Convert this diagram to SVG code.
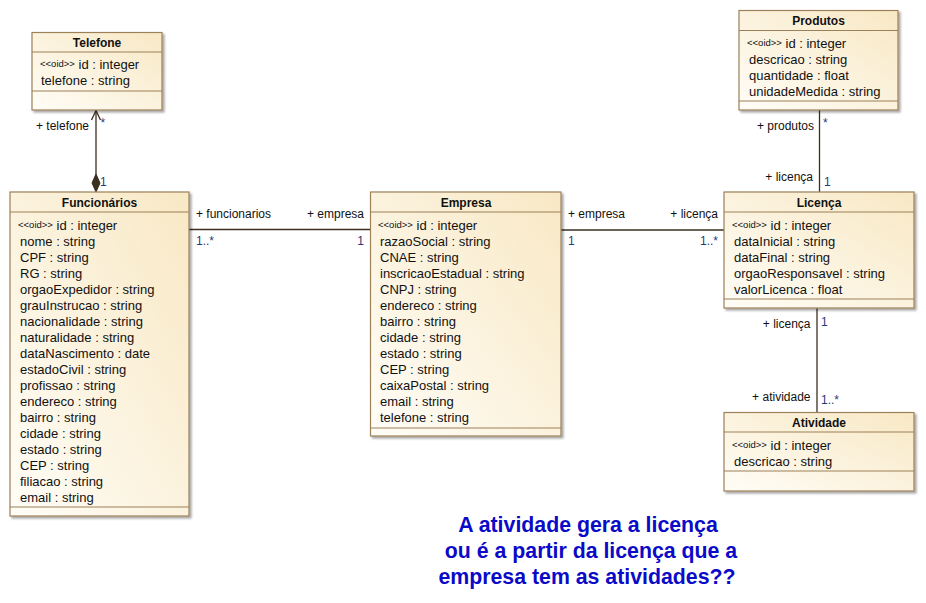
<svg xmlns="http://www.w3.org/2000/svg" width="926" height="603" viewBox="0 0 926 603">
<defs>
<linearGradient id="fill" x1="0" y1="1" x2="1" y2="0">
<stop offset="0" stop-color="#fffdf7"/>
<stop offset="1" stop-color="#f8e8c4"/>
</linearGradient>
<filter id="sh" x="-5%" y="-5%" width="115%" height="115%">
<feGaussianBlur in="SourceAlpha" stdDeviation="1.2"/>
<feOffset dx="2" dy="2" result="b"/>
<feComponentTransfer><feFuncA type="linear" slope="0.35"/></feComponentTransfer>
<feMerge><feMergeNode/><feMergeNode in="SourceGraphic"/></feMerge>
</filter>
</defs>
<style>
.box{fill:url(#fill);stroke:#9b8059;stroke-width:1.2;filter:url(#sh)}
.sep{stroke:#9b8059;stroke-width:1.2}
.t{font-family:"Liberation Sans",Arial,sans-serif;font-size:12px;font-weight:bold;fill:#111;text-anchor:middle}
.a{font-family:"Liberation Sans",Arial,sans-serif;font-size:13px;fill:#111}
.st{font-family:"Liberation Sans",Arial,sans-serif;font-size:9.5px;fill:#111}
.l{font-family:"Liberation Sans",Arial,sans-serif;font-size:12px;fill:#111}
.m{font-family:"Liberation Sans",Arial,sans-serif;font-size:12px;fill:#1f3a78}
.e{text-anchor:end}
.c{stroke:#3b2f20;stroke-width:1.3;fill:none}
.q{font-family:"Liberation Sans",Arial,sans-serif;font-size:21.3px;font-weight:bold;fill:#0a0ac8;text-anchor:middle}
</style>

<g id="connectors">
<line class="c" x1="96" y1="110" x2="96" y2="175"/>
<polyline class="c" points="91.5,120 96,110.5 100.5,120"/>
<polygon points="96,192 100,183 96,174 92,183" fill="#3b2f20" stroke="#3b2f20" stroke-width="1"/>
<line class="c" x1="189" y1="229.5" x2="370" y2="229.5"/>
<line class="c" x1="561" y1="230" x2="724" y2="230"/>
<line class="c" x1="819.5" y1="110" x2="819.5" y2="192"/>
<line class="c" x1="817" y1="308" x2="817" y2="412"/>
<text class="l" x="36" y="130">+ telefone</text>
<text class="m" x="100.5" y="127">*</text>
<text class="m" x="100" y="186">1</text>
<text class="l" x="196" y="218">+ funcionarios</text>
<text class="l e" x="364" y="218">+ empresa</text>
<text class="m" x="196" y="245">1..*</text>
<text class="m e" x="364" y="245">1</text>
<text class="l" x="568" y="218">+ empresa</text>
<text class="l e" x="718" y="218">+ licença</text>
<text class="m" x="568" y="245">1</text>
<text class="m e" x="718" y="245">1..*</text>
<text class="l e" x="814" y="130">+ produtos</text>
<text class="m" x="823" y="127">*</text>
<text class="l e" x="813" y="181">+ licença</text>
<text class="m" x="824" y="186">1</text>
<text class="l e" x="810.5" y="328">+ licença</text>
<text class="m" x="821" y="326">1</text>
<text class="l e" x="810.5" y="401">+ atividade</text>
<text class="m" x="821" y="404">1..*</text>
</g>

<g id="Telefone">
<rect class="box" x="32" y="32.5" width="130" height="77.5"/>
<line class="sep" x1="32" y1="52" x2="162" y2="52"/>
<line class="sep" x1="32" y1="91" x2="162" y2="91"/>
<text class="t" x="97" y="47">Telefone</text>
<text x="40" y="69"><tspan class="st" dy="-2">&lt;&lt;oid&gt;&gt;</tspan><tspan class="a" dy="2"> id : integer</tspan></text>
<text class="a" x="41" y="85">telefone : string</text>
</g>

<g id="Funcionarios">
<rect class="box" x="10" y="192" width="179" height="324"/>
<line class="sep" x1="10" y1="212" x2="189" y2="212"/>
<line class="sep" x1="10" y1="507" x2="189" y2="507"/>
<text class="t" x="99.5" y="207">Funcionários</text>
<text x="18" y="230"><tspan class="st" dy="-2">&lt;&lt;oid&gt;&gt;</tspan><tspan class="a" dy="2"> id : integer</tspan></text>
<text class="a" x="20" y="246">nome : string</text>
<text class="a" x="20" y="262">CPF : string</text>
<text class="a" x="20" y="278">RG : string</text>
<text class="a" x="20" y="294">orgaoExpedidor : string</text>
<text class="a" x="20" y="310">grauInstrucao : string</text>
<text class="a" x="20" y="326">nacionalidade : string</text>
<text class="a" x="20" y="342">naturalidade : string</text>
<text class="a" x="20" y="358">dataNascimento : date</text>
<text class="a" x="20" y="374">estadoCivil : string</text>
<text class="a" x="20" y="390">profissao : string</text>
<text class="a" x="20" y="406">endereco : string</text>
<text class="a" x="20" y="422">bairro : string</text>
<text class="a" x="20" y="438">cidade : string</text>
<text class="a" x="20" y="454">estado : string</text>
<text class="a" x="20" y="470">CEP : string</text>
<text class="a" x="20" y="486">filiacao : string</text>
<text class="a" x="20" y="502">email : string</text>
</g>

<g id="Empresa">
<rect class="box" x="370.5" y="192" width="190.5" height="244"/>
<line class="sep" x1="370.5" y1="212" x2="561" y2="212"/>
<line class="sep" x1="370.5" y1="428" x2="561" y2="428"/>
<text class="t" x="466" y="207">Empresa</text>
<text x="378" y="230"><tspan class="st" dy="-2">&lt;&lt;oid&gt;&gt;</tspan><tspan class="a" dy="2"> id : integer</tspan></text>
<text class="a" x="380" y="246">razaoSocial : string</text>
<text class="a" x="380" y="262">CNAE : string</text>
<text class="a" x="380" y="278">inscricaoEstadual : string</text>
<text class="a" x="380" y="294">CNPJ : string</text>
<text class="a" x="380" y="310">endereco : string</text>
<text class="a" x="380" y="326">bairro : string</text>
<text class="a" x="380" y="342">cidade : string</text>
<text class="a" x="380" y="358">estado : string</text>
<text class="a" x="380" y="374">CEP : string</text>
<text class="a" x="380" y="390">caixaPostal : string</text>
<text class="a" x="380" y="406">email : string</text>
<text class="a" x="380" y="422">telefone : string</text>
</g>

<g id="Produtos">
<rect class="box" x="739" y="10.5" width="159" height="99.5"/>
<line class="sep" x1="739" y1="30.5" x2="898" y2="30.5"/>
<line class="sep" x1="739" y1="101" x2="898" y2="101"/>
<text class="t" x="818.5" y="25">Produtos</text>
<text x="747" y="48"><tspan class="st" dy="-2">&lt;&lt;oid&gt;&gt;</tspan><tspan class="a" dy="2"> id : integer</tspan></text>
<text class="a" x="749" y="64">descricao : string</text>
<text class="a" x="749" y="80">quantidade : float</text>
<text class="a" x="749" y="96">unidadeMedida : string</text>
</g>

<g id="Licenca">
<rect class="box" x="724" y="192" width="190" height="116"/>
<line class="sep" x1="724" y1="212" x2="914" y2="212"/>
<line class="sep" x1="724" y1="299" x2="914" y2="299"/>
<text class="t" x="819" y="207">Licença</text>
<text x="732" y="230"><tspan class="st" dy="-2">&lt;&lt;oid&gt;&gt;</tspan><tspan class="a" dy="2"> id : integer</tspan></text>
<text class="a" x="734" y="246">dataInicial : string</text>
<text class="a" x="734" y="262">dataFinal : string</text>
<text class="a" x="734" y="278">orgaoResponsavel : string</text>
<text class="a" x="734" y="294">valorLicenca : float</text>
</g>

<g id="Atividade">
<rect class="box" x="724" y="412.5" width="190" height="78.5"/>
<line class="sep" x1="724" y1="432" x2="914" y2="432"/>
<line class="sep" x1="724" y1="471" x2="914" y2="471"/>
<text class="t" x="819" y="427">Atividade</text>
<text x="732" y="450"><tspan class="st" dy="-2">&lt;&lt;oid&gt;&gt;</tspan><tspan class="a" dy="2"> id : integer</tspan></text>
<text class="a" x="734" y="466">descricao : string</text>
</g>

<g id="note">
<text class="q" x="588" y="532">A atividade gera a licença</text>
<text class="q" x="591" y="558">ou é a partir da licença que a</text>
<text class="q" x="587" y="584">empresa tem as atividades??</text>
</g>
</svg>
